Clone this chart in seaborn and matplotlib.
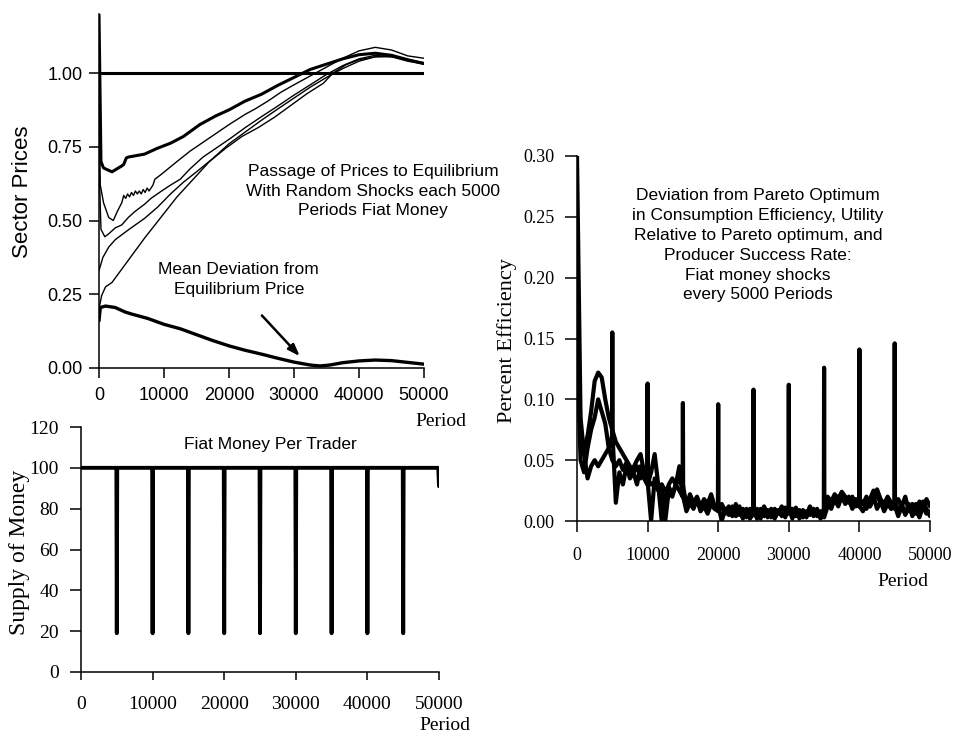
import matplotlib
matplotlib.use("Agg")
import pandas as pd
import matplotlib.pyplot as plt
import seaborn as sns

# ---------------- sector prices (top left) ----------------
price_a_period = [0, 300, 700, 2000, 3500, 3800, 4200, 4500, 7000, 9000, 11000, 13000, 15500, 18000,
                  20000, 22500, 25000, 27500, 30000, 32500, 35000, 37500, 40000, 42500, 45000, 47500, 50000]
price_a = [1.20, 0.70, 0.678, 0.665, 0.685, 0.69, 0.712, 0.715, 0.725, 0.745, 0.762, 0.785, 0.825, 0.855,
           0.875, 0.905, 0.928, 0.958, 0.985, 1.012, 1.03, 1.048, 1.062, 1.067, 1.06, 1.045, 1.032]

price_b_period = [0, 200, 700, 1500, 2200, 2800, 3500,
                  3800, 4100, 4400, 4700, 5000, 5300, 5600, 5900, 6200, 6500, 6800, 7100, 7400, 7700, 8000, 8300, 8600,
                  9500, 12000, 14000, 16000, 18000, 20000, 22500, 24000, 26000, 28000, 30000, 32500, 35000, 37500,
                  40000, 42500, 45000, 47500, 50000]
price_b = [0.95, 0.62, 0.56, 0.51, 0.50, 0.53, 0.56,
           0.585, 0.575, 0.59, 0.58, 0.595, 0.585, 0.60, 0.59, 0.60, 0.59, 0.605, 0.595, 0.61, 0.60, 0.61, 0.62, 0.64,
           0.655, 0.70, 0.735, 0.765, 0.795, 0.825, 0.86, 0.878, 0.905, 0.935, 0.96, 0.99, 1.02, 1.05,
           1.075, 1.087, 1.078, 1.058, 1.05]

price_c_period = [0, 300, 900, 1500, 2500, 3500, 4500, 5500, 7000, 8000, 9500, 11000, 12500, 14000, 16000,
                  18000, 20000, 22500, 25000, 27500, 30000, 32500, 35000, 37500, 40000, 42500, 45000, 47500, 50000]
price_c = [0.70, 0.47, 0.445, 0.455, 0.475, 0.485, 0.51, 0.53, 0.555, 0.575, 0.598, 0.62, 0.64, 0.675, 0.715,
           0.745, 0.775, 0.815, 0.852, 0.888, 0.925, 0.96, 0.995, 1.025, 1.048, 1.06, 1.055, 1.04, 1.03]

price_d_period = [0, 600, 1500, 2500, 4500, 7000, 9000, 11000, 13000, 15000, 17500, 20000, 22500, 25000,
                  27500, 30000, 32500, 35000, 37500, 40000, 42500, 45000, 47500, 50000]
price_d = [0.33, 0.375, 0.41, 0.435, 0.468, 0.507, 0.545, 0.59, 0.63, 0.665, 0.71, 0.76, 0.80, 0.84,
           0.878, 0.915, 0.952, 0.985, 1.015, 1.04, 1.055, 1.058, 1.045, 1.035]

price_e_period = [0, 400, 1000, 2000, 3000, 4500, 7000, 9500, 12000, 14500, 17000, 19500, 22000, 24500,
                  27000, 29500, 32000, 34500, 36000, 38000, 40000, 42500, 45000, 47500, 50000]
price_e = [0.20, 0.245, 0.275, 0.29, 0.32, 0.365, 0.44, 0.51, 0.58, 0.64, 0.70, 0.745, 0.785, 0.815,
           0.85, 0.89, 0.93, 0.965, 1.0, 1.028, 1.045, 1.055, 1.055, 1.045, 1.03]

dev_period = [0, 200, 1000, 2500, 4000, 5000, 7500, 10000, 12500, 15000, 17500, 20000, 22500, 25000,
              27500, 30000, 32500, 34000, 35500, 37500, 40000, 42500, 45000, 47500, 50000]
dev_value = [0.16, 0.205, 0.21, 0.205, 0.19, 0.183, 0.168, 0.148, 0.133, 0.113, 0.093, 0.075, 0.06, 0.047,
             0.033, 0.02, 0.01, 0.007, 0.01, 0.018, 0.024, 0.027, 0.025, 0.019, 0.013]

equilibrium = 1.0
price_ticks = [0, 0.25, 0.5, 0.75, 1.0]

# ---------------- supply of money (bottom left) ----------------
money_level = 100
shock_floor = 19
final_level = 91
shock_periods = [5000, 10000, 15000, 20000, 25000, 30000, 35000, 40000, 45000]

# ---------------- efficiency (right) ----------------
eff_period = list(range(0, 50001, 500))
eff_1 = [0.30, 0.085, 0.055, 0.035, 0.045, 0.05, 0.045, 0.05, 0.055, 0.06,
         0.07, 0.015, 0.04, 0.03, 0.045, 0.035, 0.04, 0.03, 0.045, 0.035,
         0.03, 0.0, 0.035, 0.025, 0.03, 0.0, 0.025, 0.02, 0.03, 0.025,
         0.02, 0.008, 0.015, 0.01, 0.018, 0.008, 0.012, 0.006, 0.014, 0.01,
         0.012, 0.0, 0.01, 0.005, 0.012, 0.004, 0.008, 0.002, 0.01, 0.006,
         0.008, 0.002, 0.01, 0.004, 0.009, 0.003, 0.01, 0.006, 0.012, 0.005,
         0.01, 0.002, 0.01, 0.005, 0.008, 0.003, 0.01, 0.004, 0.007, 0.002,
         0.006, 0.015, 0.01, 0.018, 0.012, 0.02, 0.014, 0.018, 0.01, 0.016,
         0.012, 0.008, 0.015, 0.012, 0.02, 0.01, 0.016, 0.008, 0.014, 0.01,
         0.012, 0.004, 0.012, 0.006, 0.014, 0.004, 0.01, 0.003, 0.012, 0.006,
         0.008]
eff_2 = [0.20, 0.07, 0.06, 0.07, 0.09, 0.115, 0.122, 0.118, 0.10, 0.085,
         0.075, 0.065, 0.06, 0.055, 0.05, 0.045, 0.04, 0.045, 0.035, 0.04,
         0.035, 0.03, 0.032, 0.028, 0.03, 0.025, 0.028, 0.022, 0.03, 0.035,
         0.025, 0.015, 0.02, 0.012, 0.016, 0.01, 0.015, 0.012, 0.018, 0.01,
         0.008, 0.012, 0.006, 0.01, 0.004, 0.008, 0.012, 0.005, 0.008, 0.002,
         0.006, 0.01, 0.004, 0.008, 0.003, 0.01, 0.005, 0.009, 0.004, 0.011,
         0.006, 0.01, 0.004, 0.009, 0.003, 0.008, 0.005, 0.01, 0.004, 0.008,
         0.003, 0.012, 0.018, 0.015, 0.02, 0.022, 0.016, 0.02, 0.014, 0.018,
         0.012, 0.016, 0.01, 0.018, 0.025, 0.02, 0.015, 0.012, 0.018, 0.01,
         0.016, 0.008, 0.014, 0.005, 0.012, 0.008, 0.014, 0.006, 0.016, 0.01,
         0.004]
eff_3 = [0.15, 0.05, 0.04, 0.06, 0.075, 0.085, 0.10, 0.09, 0.08, 0.06,
         0.05, 0.045, 0.05, 0.042, 0.048, 0.038, 0.044, 0.05, 0.055, 0.04,
         0.03, 0.04, 0.055, 0.03, 0.0, 0.02, 0.03, 0.035, 0.03, 0.045,
         0.03, 0.012, 0.022, 0.015, 0.02, 0.012, 0.018, 0.014, 0.022, 0.012,
         0.01, 0.014, 0.008, 0.012, 0.006, 0.014, 0.005, 0.01, 0.003, 0.01,
         0.005, 0.008, 0.002, 0.012, 0.006, 0.009, 0.002, 0.008, 0.01, 0.003,
         0.012, 0.006, 0.011, 0.002, 0.009, 0.005, 0.012, 0.006, 0.01, 0.004,
         0.01, 0.02, 0.016, 0.022, 0.018, 0.024, 0.02, 0.015, 0.02, 0.012,
         0.018, 0.014, 0.02, 0.012, 0.018, 0.026, 0.018, 0.014, 0.02, 0.015,
         0.01, 0.018, 0.012, 0.02, 0.008, 0.014, 0.006, 0.016, 0.01, 0.018,
         0.012]
spike_heights = [0.155, 0.113, 0.097, 0.096, 0.108, 0.112, 0.126, 0.141, 0.146]

# build the money series: flat supply with a dip at every shock
money_x, money_y = [0], [money_level]
for p in shock_periods:
    money_x += [p - 60, p, p + 60]
    money_y += [money_level, shock_floor, money_level]
money_x += [49900, 50000]
money_y += [money_level, final_level]
money = pd.DataFrame({"period": money_x, "supply": money_y})

# efficiency series 1 gets the narrow shock spikes
spike_of = dict(zip(shock_periods, spike_heights))
s1_x, s1_y = [], []
for p, v in zip(eff_period, eff_1):
    if p in spike_of:
        s1_x += [p - 40, p, p + 40]
        s1_y += [v, spike_of[p], v]
    else:
        s1_x.append(p)
        s1_y.append(v)

sns.set_style("ticks")
plt.rcParams.update({
    "axes.linewidth": 1.1,
    "xtick.major.width": 1.1,
    "ytick.major.width": 1.1,
    "axes.edgecolor": "black",
    "xtick.color": "black",
    "ytick.color": "black",
    "text.color": "black",
    "axes.labelcolor": "black",
})
sans = ["Liberation Sans", "DejaVu Sans"]
serif = ["Liberation Serif", "DejaVu Serif"]

W, H = 958, 736
fig = plt.figure(figsize=(W / 100, H / 100), dpi=100)


def box(left, right, top, bottom):
    return [left / W, 1 - bottom / H, (right - left) / W, (bottom - top) / H]


ax1 = fig.add_axes(box(99, 424, 14, 368))
ax2 = fig.add_axes(box(81, 439, 427, 672))
ax3 = fig.add_axes(box(577, 930, 156, 521))

# --- top left
kw = dict(color="black", estimator=None, sort=False, ax=ax1)
sns.lineplot(x=[0, 50000], y=[equilibrium, equilibrium], linewidth=2.2, **kw)
sns.lineplot(x=price_e_period, y=price_e, linewidth=1.0, **kw)
sns.lineplot(x=price_d_period, y=price_d, linewidth=1.0, **kw)
sns.lineplot(x=price_c_period, y=price_c, linewidth=1.0, **kw)
sns.lineplot(x=price_b_period, y=price_b, linewidth=1.0, **kw)
sns.lineplot(x=price_a_period, y=price_a, linewidth=2.2, **kw)
sns.lineplot(x=dev_period, y=dev_value, linewidth=2.4, **kw)
ax1.set_xlim(0, 50000)
ax1.set_ylim(0, 1.2)
ax1.set_yticks(price_ticks)
ax1.set_yticklabels([f"{t:.2f}" for t in price_ticks], family=sans, fontsize=13)
ax1.set_xticks(range(0, 50001, 10000))
ax1.set_xticklabels([str(t) for t in range(0, 50001, 10000)], family=sans, fontsize=13)
ax1.tick_params(axis="y", length=7, pad=5)
ax1.tick_params(axis="x", length=7, pad=7)
ax1.annotate("", xy=(31180, 0.033), xytext=(24770, 0.185),
             arrowprops=dict(arrowstyle="-|>,head_length=0.7,head_width=0.25", color="black", lw=1.8))
ax1.text(0.843, 0.5, "Passage of Prices to Equilibrium\nWith Random Shocks each 5000\nPeriods Fiat Money",
         transform=ax1.transAxes, ha="center", va="center", family=sans, fontsize=12.5, linespacing=1.4)
ax1.text(0.43, 0.25, "Mean Deviation from\nEquilibrium Price",
         transform=ax1.transAxes, ha="center", va="center", family=sans, fontsize=12.5, linespacing=1.4)

# --- bottom left
sns.lineplot(data=money, x="period", y="supply", color="black", linewidth=2.8,
             estimator=None, sort=False, ax=ax2)
ax2.set_xlim(0, 50000)
ax2.set_ylim(0, 120)
ax2.set_yticks(range(0, 121, 20))
ax2.set_yticklabels([str(t) for t in range(0, 121, 20)], family=serif, fontsize=14)
ax2.set_xticks(range(0, 50001, 10000))
ax2.set_xticklabels([str(t) for t in range(0, 50001, 10000)], family=serif, fontsize=14)
ax2.tick_params(axis="y", length=8, pad=8)
ax2.tick_params(axis="x", length=6, pad=11)
ax2.text(0.53, 0.93, "Fiat Money Per Trader", transform=ax2.transAxes,
         ha="center", va="center", family=sans, fontsize=12.5)

# --- right
kw3 = dict(color="black", estimator=None, sort=False, ax=ax3, linewidth=3.0)
sns.lineplot(x=eff_period, y=eff_3, **kw3)
sns.lineplot(x=eff_period, y=eff_2, **kw3)
sns.lineplot(x=s1_x, y=s1_y, **kw3)
eff_ticks = [0, 0.05, 0.10, 0.15, 0.20, 0.25, 0.30]
ax3.set_xlim(0, 50000)
ax3.set_ylim(0, 0.30)
ax3.set_yticks(eff_ticks)
ax3.set_yticklabels([f"{t:.2f}" for t in eff_ticks], family=serif, fontsize=13)
ax3.set_xticks(range(0, 50001, 10000))
ax3.set_xticklabels([str(t) for t in range(0, 50001, 10000)], family=serif, fontsize=13)
ax3.tick_params(axis="y", length=9, pad=7)
ax3.tick_params(axis="x", length=8, pad=11)
ax3.text(0.513, 0.755,
         "Deviation from Pareto Optimum\nin Consumption Efficiency, Utility\nRelative to Pareto optimum, and\n"
         "Producer Success Rate:\nFiat money shocks\nevery 5000 Periods",
         transform=ax3.transAxes, ha="center", va="center", family=sans, fontsize=12.5, linespacing=1.4)

for ax in (ax1, ax2, ax3):
    sns.despine(ax=ax)
    ax.set_xlabel("")
    ax.set_ylabel("")
    ax.set_facecolor("white")

# axis titles
fig.text(23 / W, 1 - 192 / H, "Sector Prices", rotation=90, ha="center", va="center", family=sans, fontsize=16)
fig.text(20 / W, 1 - 552 / H, "Supply of Money", rotation=90, ha="center", va="center", family=serif, fontsize=17)
fig.text(507 / W, 1 - 341 / H, "Percent Efficiency", rotation=90, ha="center", va="center", family=serif, fontsize=16)
fig.text(441 / W, 1 - 421 / H, "Period", ha="center", va="center", family=serif, fontsize=14)
fig.text(445 / W, 1 - 725 / H, "Period", ha="center", va="center", family=serif, fontsize=14)
fig.text(903 / W, 1 - 582 / H, "Period", ha="center", va="center", family=serif, fontsize=14)

fig.savefig("out.png", dpi=100, facecolor="white")
